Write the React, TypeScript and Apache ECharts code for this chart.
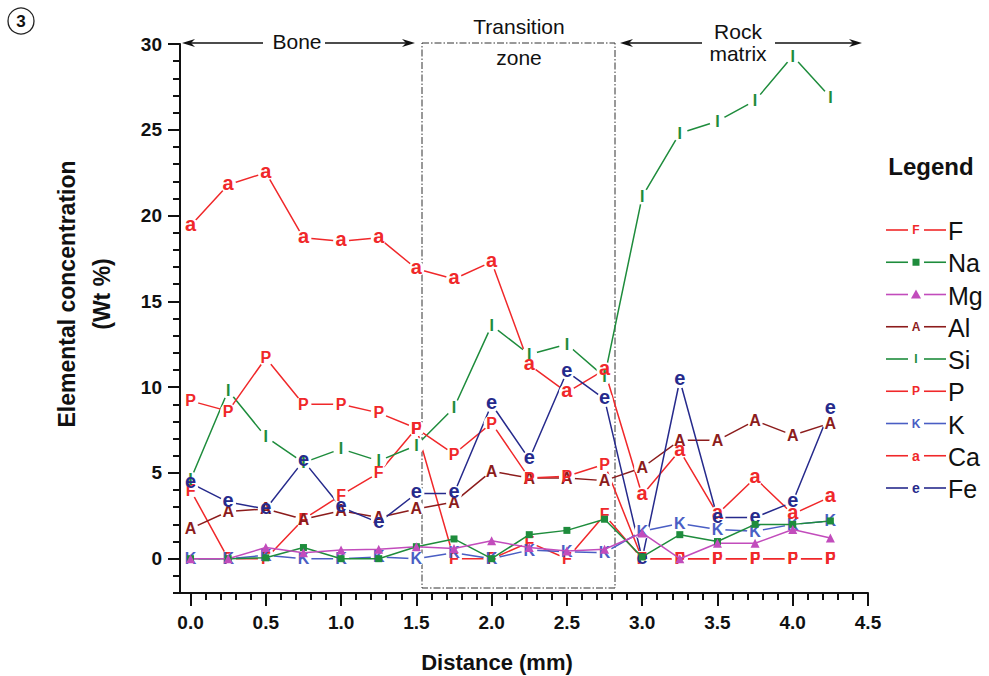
import React, { useEffect, useRef } from 'react';
import * as echarts from 'echarts';

// ---- data ----
const distance = [0, 0.25, 0.5, 0.75, 1.0, 1.25, 1.5, 1.75, 2.0, 2.25, 2.5, 2.75, 3.0, 3.25, 3.5, 3.75, 4.0, 4.25];
const F = [4.0, 0, 0, 2.3, 3.7, 5.0, 7.6, 0, 0, 0.95, 0, 2.55, 0, 0, 0, 0, 0, 0];
const Na = [0, 0, 0.05, 0.65, 0, 0, 0.7, 1.15, 0, 1.4, 1.65, 2.3, 0.1, 1.4, 1.0, 2.0, 2.0, 2.2];
const Mg = [0, 0, 0.65, 0.35, 0.5, 0.55, 0.7, 0.6, 1.05, 0.65, 0.45, 0.55, 1.5, 0, 0.9, 0.9, 1.7, 1.2];
const Al = [1.75, 2.75, 2.9, 2.3, 2.8, 2.4, 2.9, 3.3, 5.1, 4.7, 4.7, 4.55, 5.3, 6.9, 6.9, 8.05, 7.2, 7.9];
const Si = [4.6, 9.8, 7.1, 5.6, 6.4, 5.7, 6.6, 8.8, 13.6, 11.9, 12.5, 10.6, 21.1, 24.8, 25.5, 26.7, 29.3, 26.9];
const P = [9.2, 8.6, 11.7, 9.0, 9.0, 8.5, 7.6, 6.1, 7.9, 4.7, 4.8, 5.5, 0, 0, 0, 0, 0, 0];
const K = [0, 0, 0.2, 0, 0, 0.1, 0, 0.35, 0, 0.5, 0.4, 0.35, 1.6, 2.05, 1.7, 1.6, 2.0, 2.2];
const Ca = [19.4, 21.8, 22.5, 18.7, 18.5, 18.7, 16.9, 16.3, 17.3, 11.3, 9.7, 11.0, 3.7, 6.3, 2.6, 4.7, 2.6, 3.6];
const Fe = [4.4, 3.3, 2.9, 5.7, 3.0, 2.1, 3.8, 3.8, 9.0, 5.8, 10.9, 9.3, 0, 10.4, 2.4, 2.4, 3.3, 8.7];

const xMajorTicks = [0, 0.5, 1.0, 1.5, 2.0, 2.5, 3.0, 3.5, 4.0, 4.5];
const xMinorTicks = [0, 0.1, 0.2, 0.3, 0.4, 0.5, 0.6, 0.7, 0.8, 0.9, 1.0, 1.1, 1.2, 1.3, 1.4, 1.5, 1.6, 1.7, 1.8, 1.9, 2.0, 2.1, 2.2, 2.3, 2.4, 2.5, 2.6, 2.7, 2.8, 2.9, 3.0, 3.1, 3.2, 3.3, 3.4, 3.5, 3.6, 3.7, 3.8, 3.9, 4.0, 4.1, 4.2, 4.3, 4.4, 4.5];
const yMajorTicks = [0, 5, 10, 15, 20, 25, 30];
const yMinorTicks = [-2, -1, 0, 1, 2, 3, 4, 5, 6, 7, 8, 9, 10, 11, 12, 13, 14, 15, 16, 17, 18, 19, 20, 21, 22, 23, 24, 25, 26, 27, 28, 29, 30];

const FONT = 'Liberation Sans, Arial, Helvetica, sans-serif';
const RED = '#f0282a';
const GREEN = '#1e8c3c';
const MAGENTA = '#c24cbc';
const DARKRED = '#8c1c1c';
const BLUE = '#4a5ec4';
const NAVY = '#262a8c';

type Def = { name: string; values: number[]; color: string; letter?: string; shape?: string; lower?: boolean; z?: number };
const defs: Def[] = [
  { name: 'F', values: F, color: RED, letter: 'F' },
  { name: 'Na', values: Na, color: GREEN, shape: 'rect', z: 4 },
  { name: 'Mg', values: Mg, color: MAGENTA, shape: 'triangle', z: 4 },
  { name: 'Al', values: Al, color: DARKRED, letter: 'A' },
  { name: 'Si', values: Si, color: GREEN, letter: 'I' },
  { name: 'P', values: P, color: RED, letter: 'P' },
  { name: 'K', values: K, color: BLUE, letter: 'K' },
  { name: 'Ca', values: Ca, color: RED, letter: 'a', lower: true },
  { name: 'Fe', values: Fe, color: NAVY, letter: 'e', lower: true },
];

function arrowHead(tipX: number, y: number, dir: number, color: string) {
  const L = 13;
  const H = 4;
  return {
    type: 'polygon',
    shape: { points: [[tipX, y], [tipX - dir * L, y - H], [tipX - dir * (L - 4), y], [tipX - dir * L, y + H]] },
    style: { fill: color },
    silent: true,
  };
}

function hline(x1: number, x2: number, y: number, color: string, w = 1.3) {
  return { type: 'line', shape: { x1, y1: y, x2, y2: y }, style: { stroke: color, lineWidth: w }, silent: true };
}

function txt(x: number, y: number, text: string, size: number, weight: string, color = '#111', align = 'center') {
  return {
    type: 'text',
    x,
    y,
    silent: true,
    style: {
      text,
      fill: color,
      font: `${weight} ${size}px ${FONT}`,
      fontSize: size,
      fontWeight: weight,
      fontFamily: FONT,
      align,
      verticalAlign: 'middle',
      textAlign: align,
      textVerticalAlign: 'middle',
    },
  };
}

export default function App() {
  const ref = useRef<HTMLDivElement>(null);

  useEffect(() => {
    if (!ref.current) return;
    const chart = echarts.init(ref.current, undefined, { renderer: 'svg' });

    const series: any[] = defs.map((d) => {
      const data = distance.map((x, i) => [x, d.values[i]]);
      const base: any = {
        name: d.name,
        type: 'line',
        data,
        xAxisIndex: 0,
        yAxisIndex: 0,
        clip: false,
        z: d.z ?? 2,
        lineStyle: { color: d.color, width: 1.5 },
        emphasis: { disabled: true },
      };
      if (d.letter) {
        base.symbol = 'circle';
        base.symbolSize = 16;
        base.itemStyle = { color: '#ffffff', borderWidth: 0 };
        base.label = {
          show: true,
          position: 'inside',
          formatter: d.letter,
          color: d.color,
          fontFamily: FONT,
          fontWeight: 'bold',
          fontSize: d.lower ? 20 : 16,
          offset: d.lower ? [0, -2] : [0, 0],
        };
      } else {
        base.symbol = d.shape;
        base.symbolSize = d.shape === 'rect' ? 7 : 9;
        base.itemStyle = { color: d.color };
      }
      return base;
    });

    // legend drawn with graphics
    const legendEls: any[] = [txt(931, 166, 'Legend', 24, 'bold', '#111')];
    defs.forEach((d, i) => {
      const y = 230 + i * 32.25;
      legendEls.push(hline(886, 908, y, d.color, 1.6));
      legendEls.push(hline(924, 946, y, d.color, 1.6));
      if (d.letter) {
        legendEls.push(txt(916, y, d.letter, d.lower ? 14 : 12, 'bold', d.color));
      } else if (d.shape === 'rect') {
        legendEls.push({ type: 'rect', shape: { x: 912.5, y: y - 3.5, width: 7, height: 7 }, style: { fill: d.color }, silent: true });
      } else {
        legendEls.push({ type: 'polygon', shape: { points: [[916, y - 5], [921, y + 4], [911, y + 4]] }, style: { fill: d.color }, silent: true });
      }
      legendEls.push(txt(948, y + 1, d.name, 25, 'normal', '#111', 'left'));
    });

    const graphics: any[] = [
      { type: 'circle', shape: { cx: 21, cy: 21, r: 13 }, style: { fill: 'none', stroke: '#222', lineWidth: 1.3 }, silent: true },
      txt(21, 21, '3', 17, 'bold', '#111'),
      hline(190, 263, 43, '#111'),
      arrowHead(182, 43, -1, '#111'),
      txt(297, 41, 'Bone', 21, 'normal'),
      hline(325, 407, 43, '#111'),
      arrowHead(415, 43, 1, '#111'),
      {
        type: 'rect',
        shape: { x: 422, y: 43, width: 193, height: 545 },
        style: { fill: 'none', stroke: '#333', lineWidth: 1, lineDash: [7, 2, 1.5, 2] },
        silent: true,
      },
      txt(519, 26, 'Transition', 21, 'normal'),
      txt(519, 57, 'zone', 21, 'normal'),
      hline(628, 702, 43, '#111'),
      arrowHead(620, 43, -1, '#111'),
      txt(738, 31, 'Rock', 21, 'normal'),
      txt(738, 53, 'matrix', 21, 'normal'),
      hline(775, 854, 43, '#111'),
      arrowHead(862, 43, 1, '#111'),
      {
        type: 'text',
        x: 84,
        y: 294,
        rotation: Math.PI / 2,
        silent: true,
        style: {
          text: 'Elemental concentration\n(Wt %)',
          fill: '#111',
          font: `bold 23px ${FONT}`,
          fontSize: 23,
          fontWeight: 'bold',
          fontFamily: FONT,
          lineHeight: 35,
          align: 'center',
          verticalAlign: 'middle',
          textAlign: 'center',
          textVerticalAlign: 'middle',
        },
      },
      txt(497, 662, 'Distance (mm)', 22, 'bold'),
      ...legendEls,
    ];

    const axisCommon = {
      type: 'value',
      splitLine: { show: false },
      axisPointer: { show: false },
    };

    chart.setOption({
      animation: false,
      backgroundColor: '#ffffff',
      grid: { left: 180, right: 121, top: 44, bottom: 83, containLabel: false },
      xAxis: [
        {
          ...axisCommon,
          position: 'bottom',
          min: -0.07,
          max: 4.5,
          axisLine: { show: true, onZero: false, lineStyle: { color: '#111', width: 2 } },
          axisTick: { show: true, length: 13, customValues: xMajorTicks, lineStyle: { color: '#111', width: 2 } },
          axisLabel: {
            show: true,
            customValues: xMajorTicks,
            formatter: (v: number) => v.toFixed(1),
            margin: 20,
            color: '#111',
            fontFamily: FONT,
            fontWeight: 'bold',
            fontSize: 19,
          },
        },
        {
          ...axisCommon,
          position: 'bottom',
          min: -0.07,
          max: 4.5,
          axisLine: { show: false, onZero: false },
          axisTick: { show: true, length: 7, customValues: xMinorTicks, lineStyle: { color: '#111', width: 2 } },
          axisLabel: { show: false },
        },
      ],
      yAxis: [
        {
          ...axisCommon,
          position: 'left',
          min: -2,
          max: 30,
          axisLine: { show: true, onZero: false, lineStyle: { color: '#111', width: 2 } },
          axisTick: { show: true, length: 12, customValues: yMajorTicks, lineStyle: { color: '#111', width: 2 } },
          axisLabel: {
            show: true,
            customValues: yMajorTicks,
            formatter: (v: number) => String(v),
            margin: 18,
            color: '#111',
            fontFamily: FONT,
            fontWeight: 'bold',
            fontSize: 19,
          },
        },
        {
          ...axisCommon,
          position: 'left',
          min: -2,
          max: 30,
          axisLine: { show: false, onZero: false },
          axisTick: { show: true, length: 7, customValues: yMinorTicks, lineStyle: { color: '#111', width: 2 } },
          axisLabel: { show: false },
        },
      ],
      series,
      graphic: graphics,
    });

    return () => {
      chart.dispose();
    };
  }, []);

  return (
    <div
      ref={ref}
      style={{ position: 'fixed', left: 0, top: 0, width: '989px', height: '676px', background: '#fff' }}
    />
  );
}
